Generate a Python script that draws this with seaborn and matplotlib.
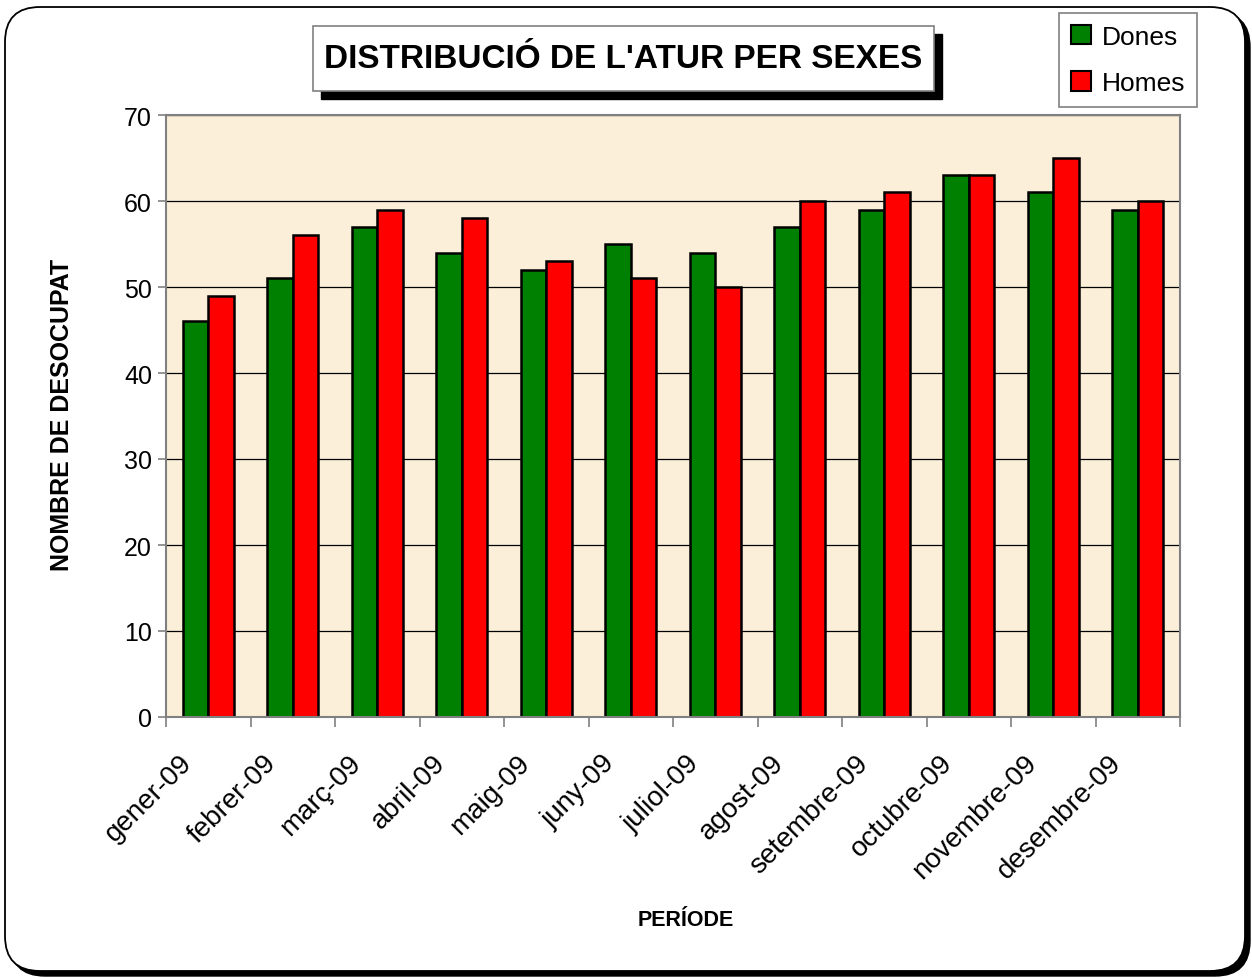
import matplotlib
matplotlib.use("Agg")
import matplotlib.pyplot as plt
from matplotlib.patches import FancyBboxPatch, Rectangle, Patch
from matplotlib.transforms import ScaledTranslation
import pandas as pd
import seaborn as sns

MONTHS = ["gener-09", "febrer-09", "març-09", "abril-09", "maig-09", "juny-09",
          "juliol-09", "agost-09", "setembre-09", "octubre-09", "novembre-09",
          "desembre-09"]
DONES = [46, 51, 57, 54, 52, 55, 54, 57, 59, 63, 61, 59]
HOMES = [49, 56, 59, 58, 53, 51, 50, 60, 61, 63, 65, 60]
SERIES = ["Dones", "Homes"]
COLORS = {"Dones": "#008000", "Homes": "#ff0000"}
Y_TICKS = [0, 10, 20, 30, 40, 50, 60, 70]

W, H = 1252, 979
GRAY = "#808080"

df = pd.DataFrame({
    "Mes": MONTHS * 2,
    "Sexe": ["Dones"] * len(MONTHS) + ["Homes"] * len(MONTHS),
    "Valor": DONES + HOMES,
})

sns.set_style("white")
plt.rcParams["font.family"] = ["Liberation Sans", "DejaVu Sans"]
plt.rcParams["text.color"] = "black"
plt.rcParams["xtick.labelcolor"] = "black"
plt.rcParams["ytick.labelcolor"] = "black"

fig = plt.figure(figsize=(W / 100, H / 100), dpi=100)
fig.patch.set_facecolor("white")


def box_in(x0, y0, x1, y1):
    # pixel box (top-left origin) -> inches (bottom-left origin)
    return x0 / 100, (H - y1) / 100, (x1 - x0) / 100, (y1 - y0) / 100


# rounded outer frame with drop shadow
bx, by, bw, bh = box_in(5, 8, 1245, 972)
fig.add_artist(FancyBboxPatch((bx + 0.05, by - 0.05), bw, bh,
                              boxstyle="round,pad=0,rounding_size=0.35",
                              transform=fig.dpi_scale_trans, fc="black",
                              ec="black", lw=1, zorder=-3))
fig.add_artist(FancyBboxPatch((bx, by), bw, bh,
                              boxstyle="round,pad=0,rounding_size=0.35",
                              transform=fig.dpi_scale_trans, fc="white",
                              ec="black", lw=1.3, zorder=-2))

ax = fig.add_axes([166 / W, 1 - 718 / H, (1180 - 166) / W, (718 - 116) / H])
ax.set_facecolor("#fbefd9")

sns.barplot(data=df, x="Mes", y="Valor", hue="Sexe", hue_order=SERIES,
            palette=COLORS, saturation=1, width=0.6, gap=0,
            edgecolor="black", linewidth=1.8, legend=False, ax=ax)

ax.set_ylim(0, 70)
ax.set_xlim(-0.5, len(MONTHS) - 0.5)
ax.set_yticks(Y_TICKS)
ax.yaxis.grid(True, color="black", lw=0.9)
ax.set_axisbelow(True)
for s in ax.spines.values():
    s.set_visible(True)
    s.set_color(GRAY)
    s.set_linewidth(1.5)

ax.set_xlabel("")
ax.set_ylabel("")
ax.tick_params(axis="y", length=6, width=1.2, color=GRAY, labelsize=18, pad=4,
               left=True, labelcolor="black")
ax.set_xticks([i - 0.5 for i in range(len(MONTHS) + 1)], minor=True)
ax.tick_params(axis="x", which="minor", length=7, width=1.2, color=GRAY,
               bottom=True)
ax.tick_params(axis="x", which="major", length=0, labelsize=20, pad=30,
               labelcolor="black")
offset = ScaledTranslation(-0.2, 0, fig.dpi_scale_trans)
for lbl in ax.get_xticklabels():
    lbl.set_rotation(45)
    lbl.set_ha("right")
    lbl.set_va("center")
    lbl.set_rotation_mode("anchor")
    lbl.set_transform(lbl.get_transform() + offset)

# axis titles
fig.text(62 / W, 1 - 415 / H, "NOMBRE DE DESOCUPAT", rotation=90,
         ha="center", va="center", fontsize=18, fontweight="bold")
fig.text(686 / W, 1 - 921 / H, "PERÍODE", ha="center", va="center",
         fontsize=15.5, fontweight="bold")

# title box with shadow
tx, ty, tw, th = box_in(313, 27, 934, 92)
fig.add_artist(Rectangle((tx + 0.08, ty - 0.08), tw, th,
                         transform=fig.dpi_scale_trans, fc="black", ec="black",
                         zorder=3))
fig.add_artist(Rectangle((tx, ty), tw, th, transform=fig.dpi_scale_trans,
                         fc="white", ec=GRAY, lw=1.2, zorder=4))
fig.text(623.5 / W, 1 - 60 / H, "DISTRIBUCIÓ DE L'ATUR PER SEXES",
         ha="center", va="center", fontsize=24, fontweight="bold", zorder=5)

# legend
handles = [Patch(fc=COLORS[s], ec="black", lw=1.5) for s in SERIES]
leg = ax.legend(handles, SERIES, loc="center",
                bbox_to_anchor=(1128 / W, 1 - 61 / H),
                bbox_transform=fig.transFigure, fontsize=19, frameon=True,
                fancybox=False, edgecolor=GRAY, framealpha=1,
                handlelength=0.75, handleheight=0.75, handletextpad=0.4,
                labelspacing=0.85, borderpad=0.45, borderaxespad=0)
leg.get_frame().set_linewidth(1.2)
for t in leg.get_texts():
    t.set_color("black")

fig.savefig("out.png", dpi=100)
